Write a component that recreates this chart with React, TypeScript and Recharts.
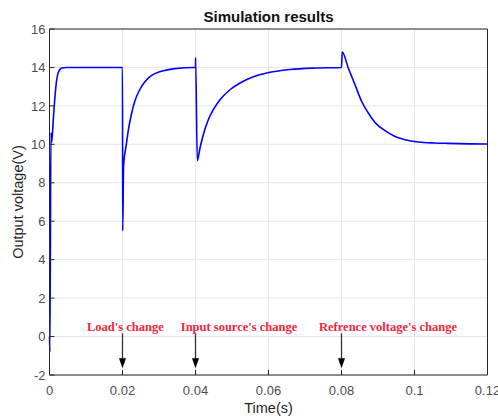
import React from 'react';
import {
  LineChart,
  Line,
  XAxis,
  YAxis,
  CartesianGrid,
  ReferenceLine,
  ReferenceDot,
} from 'recharts';

// Time (s)
const timeS = [
  0, 0.0001, 0.0004, 0.0006, 0.00104, 0.00151, 0.00197, 0.00241, 0.00334, 0.0047,
  0.01, 0.02, 0.02005, 0.0203, 0.02104, 0.0217, 0.02241, 0.02334, 0.02471, 0.02608,
  0.02789, 0.03063, 0.0343, 0.03978, 0.04, 0.04003, 0.04049, 0.04123, 0.04214, 0.04351,
  0.04488, 0.04671, 0.04945, 0.05219, 0.05584, 0.05951, 0.06589, 0.07321, 0.08, 0.0802,
  0.08186, 0.0837, 0.08553, 0.08734, 0.08918, 0.09192, 0.09466, 0.0974, 0.10104, 0.10562,
  0.1092, 0.1196, 0.12,
];

// Output voltage (V)
const voltage = [
  0, -0.8, 10.6, 10.1, 11.3, 12.5, 13.36, 13.74, 13.97, 14.0,
  14.0, 14.0, 5.5, 8.9, 9.98, 10.85, 11.54, 12.23, 12.84, 13.24,
  13.57, 13.8, 13.94, 14.0, 14.0, 14.5, 9.15, 9.81, 10.5, 11.28,
  11.8, 12.32, 12.84, 13.19, 13.52, 13.71, 13.89, 13.97, 14.0, 14.8,
  13.97, 13.1, 12.23, 11.63, 11.14, 10.71, 10.41, 10.24, 10.12, 10.07,
  10.05, 10.02, 10.02,
];

const xTicks = [0, 0.02, 0.04, 0.06, 0.08, 0.1, 0.12];
const yTicks = [-2, 0, 2, 4, 6, 8, 10, 12, 14, 16];

// Event annotations
const eventTimes = [0.02, 0.04, 0.08];
const eventLabels = ["Load's change", "Input source's change", "Refrence voltage's change"];
const eventLabelX = [0.02077, 0.05192, 0.09274];
const eventLabelY = 0.29;
const arrowTop = 0.17;
const arrowShaftEnd = -1.2;
const arrowTip = -1.65;

const data = timeS.map((t, i) => ({ t, v: voltage[i] }));

const AXIS = '#262626';
const TICK_FILL = '#4d4d4d';
const SANS = '"Liberation Sans", Arial, Helvetica, sans-serif';

const fmtX = (v: number) => (v === 0 ? '0' : String(Number(v.toFixed(2))));

export default function App() {
  return (
    <div style={{ position: 'absolute', left: 0, top: 0, width: 498, height: 419, background: '#fff' }}>
      <LineChart
        width={498}
        height={419}
        data={data}
        margin={{ top: 28, right: 9.5, bottom: 14, left: 9.5 }}
        style={{ fontFamily: SANS }}
      >
        <CartesianGrid stroke="#e6e6e6" strokeWidth={1} />
        <XAxis
          dataKey="t"
          type="number"
          domain={[0, 0.12]}
          ticks={xTicks}
          tickFormatter={fmtX}
          interval={0}
          height={30}
          stroke={AXIS}
          tickSize={-5}
          tickMargin={16}
          tick={{ fill: TICK_FILL, fontSize: 13, fontFamily: SANS }}
          label={{
            value: 'Time(s)',
            position: 'bottom',
            offset: -2,
            fill: AXIS,
            fontSize: 14.5,
            fontFamily: SANS,
          }}
        />
        <XAxis
          xAxisId="top"
          orientation="top"
          dataKey="t"
          type="number"
          domain={[0, 0.12]}
          ticks={xTicks}
          interval={0}
          height={1}
          stroke={AXIS}
          tickSize={-5}
          tick={false}
          label={{
            value: 'Simulation results',
            position: 'top',
            offset: 6,
            fill: '#111',
            fontSize: 15,
            fontWeight: 'bold',
            fontFamily: SANS,
          }}
        />
        <YAxis
          type="number"
          domain={[-2, 16]}
          ticks={yTicks}
          interval={0}
          width={40}
          stroke={AXIS}
          tickSize={-5}
          tickMargin={9}
          tick={{ fill: TICK_FILL, fontSize: 13, fontFamily: SANS }}
          label={{
            content: (props: any) => {
              const vb = props.viewBox || { x: 9.5, y: 29, width: 40, height: 346 };
              const x = vb.x + 8;
              const y = vb.y + vb.height / 2;
              return (
                <text
                  x={x}
                  y={y}
                  transform={`rotate(-90, ${x}, ${y})`}
                  textAnchor="middle"
                  dominantBaseline="central"
                  fill={AXIS}
                  fontSize={14.5}
                  fontFamily={SANS}
                >
                  Output voltage(V)
                </text>
              );
            },
          }}
        />
        <YAxis
          yAxisId="right"
          orientation="right"
          type="number"
          domain={[-2, 16]}
          ticks={yTicks}
          interval={0}
          width={1}
          stroke={AXIS}
          tickSize={-5}
          tick={false}
        />
        {eventTimes.map((t, i) => (
          <ReferenceLine
            key={`shaft-${i}`}
            segment={[
              { x: t, y: arrowTop },
              { x: t, y: arrowShaftEnd },
            ]}
            stroke="#333"
            strokeWidth={1.3}
          />
        ))}
        {eventTimes.map((t, i) => (
          <ReferenceDot
            key={`head-${i}`}
            x={t}
            y={arrowTip}
            r={1}
            shape={(p: any) => (
              <path
                d={`M${p.cx - 3.5},${p.cy - 10} L${p.cx + 3.5},${p.cy - 10} L${p.cx},${p.cy} Z`}
                fill="#000"
              />
            )}
          />
        ))}
        {eventLabels.map((txt, i) => (
          <ReferenceDot
            key={`lbl-${i}`}
            x={eventLabelX[i]}
            y={eventLabelY}
            r={1}
            shape={(p: any) => (
              <text
                x={p.cx}
                y={p.cy}
                textAnchor="middle"
                fill="#f2263c"
                fontSize={12.5}
                fontWeight="bold"
                fontFamily='"Liberation Serif", "Times New Roman", serif'
              >
                {txt}
              </text>
            )}
          />
        ))}
        <Line
          type="monotone"
          dataKey="v"
          stroke="#0000ff"
          strokeWidth={1.6}
          dot={false}
          activeDot={false}
          isAnimationActive={false}
        />
      </LineChart>
    </div>
  );
}
